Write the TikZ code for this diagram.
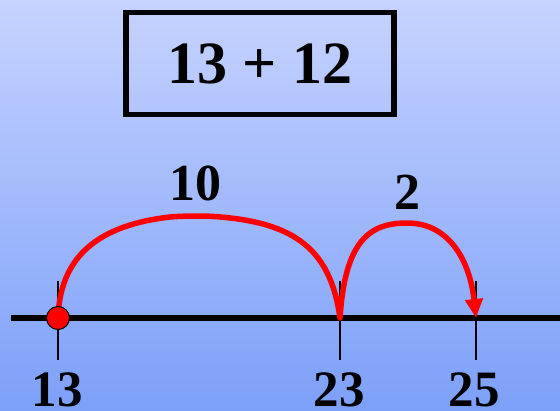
\documentclass[tikz,border=0pt]{standalone}
\usepackage{fontspec}
\setmainfont{Liberation Serif}
\usetikzlibrary{arrows.meta}
\definecolor{bgtop}{RGB}{198,211,255}
\definecolor{bgbot}{RGB}{124,160,248}
\definecolor{jumpred}{RGB}{255,0,0}
\begin{document}
\begin{tikzpicture}[x=1pt,y=-1pt,
  numlabel/.style={font=\fontsize{51}{51}\selectfont\bfseries, inner sep=0pt},
  jumplabel/.style={font=\fontsize{52}{52}\selectfont\bfseries, inner sep=0pt},
  tickline/.style={line width=2pt, black},
  jump/.style={line width=5.5pt, jumpred, line cap=round},
  sumbox/.style={draw=black, line width=5.5pt, minimum width=268pt, minimum height=102pt, inner sep=0pt,
    font=\fontsize{60}{60}\selectfont\bfseries}]
\useasboundingbox (0,0) rectangle (560,410);
\shade[top color=bgtop, bottom color=bgbot] (0,0) rectangle (560,410);
% sum box
\node[sumbox] (sum) at (260,63.5) {13 + 12};
% number line
\coordinate (lineL) at (11,318);
\coordinate (lineR) at (560,318);
\draw[line width=5.5pt] (lineL) -- (lineR);
% tick positions
\coordinate (p13) at (58,318);
\coordinate (p23) at (340,318);
\coordinate (p25) at (476,318);
\foreach \p in {p13,p23,p25}{
  \draw[tickline] ([yshift=-42pt]\p) -- ([yshift=37pt]\p);
}
% jumps
\draw[jump] (p13) .. controls (60,255) and (100,225) .. (170,217)
  .. controls (182,216) and (194,216) .. (205,216)
  .. controls (290,220) and (330,245) .. (p23);
\draw[jump, line cap=butt, -{Triangle[length=19pt,width=17pt]}] (p23) .. controls (345,240) and (370,223) .. (407,223)
  .. controls (450,223) and (470,262) .. (p25);
% start dot
\node[circle, fill=jumpred, draw=black, line width=1pt, minimum size=23pt, inner sep=0pt] (dot) at (p13) {};
% labels
\node[jumplabel] (l10) at (195,183) {10};
\node[jumplabel] (l2) at (407,192) {2};
\node[numlabel, anchor=base] (n13) at (57,406) {13};
\node[numlabel, anchor=base] (n23) at (339,406) {23};
\node[numlabel, anchor=base] (n25) at (474,406) {25};
\end{tikzpicture}
\end{document}
